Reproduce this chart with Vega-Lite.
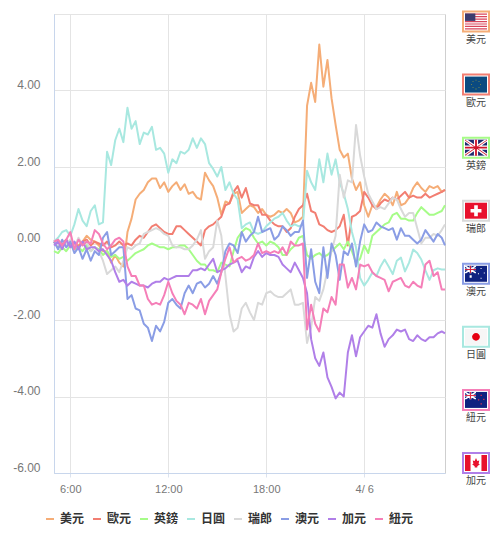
{"$schema":"https://vega.github.io/schema/vega-lite/v6.json","background":"white","padding":{"left":12,"top":7,"right":0,"bottom":0},"spacing":5,"config":{"font":"Liberation Sans, Noto Sans CJK TC","view":{"stroke":null}},
"hconcat":[{"width":391,"height":459,"view":{"stroke":"#cfcfcf"},
"data":{"values":[
{"t":"2020-04-05T05:00","美元":0,"歐元":0.05,"英鎊":-0.2,"日圓":0.05,"瑞郎":0.1,"澳元":0.05,"加元":-0.05,"紐元":0.05},
{"t":"2020-04-05T05:15","美元":0.05,"歐元":-0.1,"英鎊":-0.25,"日圓":0.15,"瑞郎":-0.05,"澳元":-0.15,"加元":0.05,"紐元":0.1},
{"t":"2020-04-05T05:30","美元":-0.05,"歐元":0,"英鎊":-0.1,"日圓":0.3,"瑞郎":0.05,"澳元":0.1,"加元":-0.15,"紐元":-0.05},
{"t":"2020-04-05T05:45","美元":0.05,"歐元":0.1,"英鎊":-0.2,"日圓":0.35,"瑞郎":0,"澳元":-0.1,"加元":0.1,"紐元":0.1},
{"t":"2020-04-05T06:00","美元":-0.05,"歐元":-0.05,"英鎊":-0.05,"日圓":0.2,"瑞郎":0.1,"澳元":0.05,"加元":-0.1,"紐元":0.3},
{"t":"2020-04-05T06:15","美元":0,"歐元":0,"英鎊":-0.15,"日圓":0.5,"瑞郎":-0.1,"澳元":-0.25,"加元":0.05,"紐元":-0.15},
{"t":"2020-04-05T06:30","美元":-0.05,"歐元":-0.1,"英鎊":-0.1,"日圓":0.9,"瑞郎":0.15,"澳元":-0.1,"加元":-0.15,"紐元":0.1},
{"t":"2020-04-05T06:45","美元":0.05,"歐元":0.05,"英鎊":-0.2,"日圓":0.6,"瑞郎":-0.05,"澳元":-0.4,"加元":0.05,"紐元":-0.05},
{"t":"2020-04-05T07:00","美元":0.2,"歐元":0.1,"英鎊":-0.05,"日圓":0.45,"瑞郎":0.05,"澳元":-0.15,"加元":-0.15,"紐元":0.05},
{"t":"2020-04-05T07:15","美元":0.1,"歐元":-0.05,"英鎊":-0.2,"日圓":0.85,"瑞郎":-0.2,"澳元":-0.45,"加元":-0.1,"紐元":0},
{"t":"2020-04-05T07:30","美元":0.05,"歐元":0.05,"英鎊":-0.1,"日圓":1.0,"瑞郎":-0.1,"澳元":-0.2,"加元":-0.1,"紐元":0.35},
{"t":"2020-04-05T07:45","美元":-0.05,"歐元":0,"英鎊":-0.15,"日圓":0.5,"瑞郎":-0.2,"澳元":-0.3,"加元":-0.2,"紐元":0.25},
{"t":"2020-04-05T08:00","美元":-0.2,"歐元":-0.05,"英鎊":-0.3,"日圓":0.55,"瑞郎":-0.45,"澳元":0.15,"加元":-0.15,"紐元":0},
{"t":"2020-04-05T08:15","美元":-0.2,"歐元":0.05,"英鎊":-0.2,"日圓":2.4,"瑞郎":-0.8,"澳元":0.3,"加元":-0.3,"紐元":-0.15},
{"t":"2020-04-05T08:30","美元":-0.5,"歐元":-0.1,"英鎊":-0.35,"日圓":2.05,"瑞郎":-0.7,"澳元":-0.3,"加元":-0.45,"紐元":-0.05},
{"t":"2020-04-05T08:45","美元":-0.3,"歐元":-0.05,"英鎊":-0.3,"日圓":2.7,"瑞郎":-0.6,"澳元":-0.2,"加元":-0.75,"紐元":0.1},
{"t":"2020-04-05T09:00","美元":-0.5,"歐元":0.05,"英鎊":-0.4,"日圓":3.0,"瑞郎":-0.75,"澳元":-0.1,"加元":-1.0,"紐元":0.15},
{"t":"2020-04-05T09:15","美元":-0.6,"歐元":-0.05,"英鎊":-0.35,"日圓":2.65,"瑞郎":-0.45,"澳元":-0.1,"加元":-0.95,"紐元":0.05},
{"t":"2020-04-05T09:30","美元":0.3,"歐元":0,"英鎊":-0.45,"日圓":3.55,"瑞郎":-0.1,"澳元":-1.45,"加元":-1.1,"紐元":-0.6},
{"t":"2020-04-05T09:45","美元":0.65,"歐元":-0.05,"英鎊":-0.35,"日圓":3.0,"瑞郎":-0.15,"澳元":-1.35,"加元":-1.0,"紐元":-0.85},
{"t":"2020-04-05T10:00","美元":1.15,"歐元":0.1,"英鎊":-0.25,"日圓":3.2,"瑞郎":-0.05,"澳元":-1.7,"加元":-1.05,"紐元":-0.85},
{"t":"2020-04-05T10:15","美元":1.3,"歐元":0.2,"英鎊":-0.2,"日圓":2.6,"瑞郎":0,"澳元":-1.75,"加元":-1.1,"紐元":-1.1},
{"t":"2020-04-05T10:30","美元":1.4,"歐元":0.15,"英鎊":-0.15,"日圓":2.9,"瑞郎":0.25,"澳元":-2.1,"加元":-1.1,"紐元":-1.1},
{"t":"2020-04-05T10:45","美元":1.6,"歐元":0.3,"英鎊":-0.05,"日圓":2.85,"瑞郎":0.3,"澳元":-2.2,"加元":-1.15,"紐元":-1.45},
{"t":"2020-04-05T11:00","美元":1.7,"歐元":0.45,"英鎊":0,"日圓":3.05,"瑞郎":0.35,"澳元":-2.55,"加元":-1.05,"紐元":-1.6},
{"t":"2020-04-05T11:15","美元":1.7,"歐元":0.5,"英鎊":-0.05,"日圓":2.45,"瑞郎":0.4,"澳元":-2.15,"加元":-1.0,"紐元":-1.55},
{"t":"2020-04-05T11:30","美元":1.45,"歐元":0.4,"英鎊":-0.1,"日圓":2.5,"瑞郎":0.35,"澳元":-2.3,"加元":-1.0,"紐元":-1.6},
{"t":"2020-04-05T11:45","美元":1.6,"歐元":0.3,"英鎊":-0.1,"日圓":2.35,"瑞郎":0.25,"澳元":-2.05,"加元":-0.9,"紐元":-1.35},
{"t":"2020-04-05T12:00","美元":1.35,"歐元":0.25,"英鎊":-0.15,"日圓":1.85,"瑞郎":0.2,"澳元":-1.55,"加元":-0.95,"紐元":-1.0},
{"t":"2020-04-05T12:15","美元":1.5,"歐元":0.25,"英鎊":-0.1,"日圓":2.2,"瑞郎":-0.05,"澳元":-1.45,"加元":-0.9,"紐元":-1.3},
{"t":"2020-04-05T12:30","美元":1.6,"歐元":0.45,"英鎊":-0.1,"日圓":2.1,"瑞郎":-0.1,"澳元":-1.6,"加元":-0.85,"紐元":-1.5},
{"t":"2020-04-05T12:45","美元":1.4,"歐元":0.45,"英鎊":-0.05,"日圓":2.4,"瑞郎":-0.1,"澳元":-1.7,"加元":-0.85,"紐元":-1.6},
{"t":"2020-04-05T13:00","美元":1.55,"歐元":0.35,"英鎊":-0.05,"日圓":2.35,"瑞郎":-0.15,"澳元":-1.3,"加元":-0.85,"紐元":-1.85},
{"t":"2020-04-05T13:15","美元":1.3,"歐元":0.25,"英鎊":-0.15,"日圓":2.45,"瑞郎":-0.15,"澳元":-1.1,"加元":-0.85,"紐元":-1.55},
{"t":"2020-04-05T13:30","美元":1.35,"歐元":0.15,"英鎊":-0.3,"日圓":2.75,"瑞郎":-0.05,"澳元":-1.3,"加元":-0.7,"紐元":-1.6},
{"t":"2020-04-05T13:45","美元":1.2,"歐元":0.05,"英鎊":-0.45,"日圓":2.5,"瑞郎":0.1,"澳元":-1.05,"加元":-0.7,"紐元":-1.7},
{"t":"2020-04-05T14:00","美元":1.15,"歐元":-0.05,"英鎊":-0.55,"日圓":2.75,"瑞郎":0.35,"澳元":-1.0,"加元":-0.65,"紐元":-1.45},
{"t":"2020-04-05T14:15","美元":1.85,"歐元":0.35,"英鎊":-0.55,"日圓":2.6,"瑞郎":-0.4,"澳元":-1.15,"加元":-0.7,"紐元":-1.85},
{"t":"2020-04-05T14:30","美元":1.65,"歐元":0.45,"英鎊":-0.7,"日圓":2.1,"瑞郎":-0.2,"澳元":-1.05,"加元":-0.55,"紐元":-1.5},
{"t":"2020-04-05T14:45","美元":1.5,"歐元":0.5,"英鎊":-0.7,"日圓":1.95,"瑞郎":-0.1,"澳元":-0.85,"加元":-0.4,"紐元":-1.35},
{"t":"2020-04-05T15:00","美元":1.2,"歐元":0.6,"英鎊":-0.75,"日圓":1.75,"瑞郎":0.6,"澳元":-1.05,"加元":-0.75,"紐元":-1.2},
{"t":"2020-04-05T15:15","美元":0.75,"歐元":0.7,"英鎊":-0.5,"日圓":2.0,"瑞郎":0.2,"澳元":-0.75,"加元":-0.7,"紐元":-0.75},
{"t":"2020-04-05T15:30","美元":1.1,"歐元":1.0,"英鎊":-0.55,"日圓":1.4,"瑞郎":-0.85,"澳元":-0.2,"加元":-0.65,"紐元":-0.4},
{"t":"2020-04-05T15:45","美元":1.05,"歐元":1.05,"英鎊":-0.6,"日圓":1.6,"瑞郎":-1.85,"澳元":0,"加元":-0.55,"紐元":-0.1},
{"t":"2020-04-05T16:00","美元":1.3,"歐元":1.35,"英鎊":-0.2,"日圓":1.3,"瑞郎":-2.3,"澳元":-0.05,"加元":-0.5,"紐元":-0.5},
{"t":"2020-04-05T16:15","美元":1.35,"歐元":1.5,"英鎊":0.15,"日圓":1.15,"瑞郎":-2.2,"澳元":-0.25,"加元":-0.45,"紐元":-0.4},
{"t":"2020-04-05T16:30","美元":0.8,"歐元":1.2,"英鎊":0.3,"日圓":0.4,"瑞郎":-1.7,"澳元":0.3,"加元":-0.75,"紐元":-0.35},
{"t":"2020-04-05T16:45","美元":0.9,"歐元":1.45,"英鎊":0.4,"日圓":0.5,"瑞郎":-1.55,"澳元":0.05,"加元":-0.6,"紐元":-0.45},
{"t":"2020-04-05T17:00","美元":1.0,"歐元":1.05,"英鎊":0.35,"日圓":0.55,"瑞郎":-1.8,"澳元":0.2,"加元":-0.65,"紐元":-0.4},
{"t":"2020-04-05T17:15","美元":0.95,"歐元":1.0,"英鎊":0.15,"日圓":0.3,"瑞郎":-2.0,"澳元":0.3,"加元":-0.35,"紐元":-0.3},
{"t":"2020-04-05T17:30","美元":0.8,"歐元":1.0,"英鎊":0,"日圓":0.25,"瑞郎":-1.55,"澳元":0.7,"加元":-0.2,"紐元":0},
{"t":"2020-04-05T17:45","美元":0.9,"歐元":0.75,"英鎊":0.05,"日圓":0.3,"瑞郎":-1.6,"澳元":0.3,"加元":-0.35,"紐元":-0.25},
{"t":"2020-04-05T18:00","美元":0.75,"歐元":0.75,"英鎊":-0.05,"日圓":0.45,"瑞郎":-1.3,"澳元":0.35,"加元":-0.25,"紐元":-0.2},
{"t":"2020-04-05T18:15","美元":0.7,"歐元":0.6,"英鎊":0.05,"日圓":0.55,"瑞郎":-1.25,"澳元":0.4,"加元":-0.3,"紐元":-0.25},
{"t":"2020-04-05T18:30","美元":0.75,"歐元":0.5,"英鎊":0,"日圓":0.65,"瑞郎":-1.35,"澳元":0.1,"加元":-0.3,"紐元":-0.2},
{"t":"2020-04-05T18:45","美元":0.85,"歐元":0.45,"英鎊":-0.1,"日圓":0.7,"瑞郎":-1.4,"澳元":0.2,"加元":-0.35,"紐元":-0.25},
{"t":"2020-04-05T19:00","美元":0.8,"歐元":0.45,"英鎊":-0.3,"日圓":0.8,"瑞郎":-1.4,"澳元":0.45,"加元":-0.55,"紐元":-0.1},
{"t":"2020-04-05T19:15","美元":0.9,"歐元":0.3,"英鎊":-0.3,"日圓":0.6,"瑞郎":-1.3,"澳元":0.35,"加元":-0.65,"紐元":-0.3},
{"t":"2020-04-05T19:30","美元":0.8,"歐元":0.4,"英鎊":-0.15,"日圓":0.45,"瑞郎":-1.2,"澳元":0.2,"加元":-0.75,"紐元":0.05},
{"t":"2020-04-05T19:45","美元":0.55,"歐元":0.7,"英鎊":-0.05,"日圓":0.5,"瑞郎":-1.6,"澳元":0.3,"加元":-0.5,"紐元":-0.05},
{"t":"2020-04-05T20:00","美元":0.6,"歐元":0.9,"英鎊":0.15,"日圓":0.45,"瑞郎":-1.6,"澳元":0.3,"加元":-0.7,"紐元":-0.05},
{"t":"2020-04-05T20:15","美元":0.7,"歐元":1.0,"英鎊":0.2,"日圓":0.5,"瑞郎":-1.55,"澳元":0.6,"加元":-0.9,"紐元":0},
{"t":"2020-04-05T20:30","美元":3.6,"歐元":1.3,"英鎊":-0.3,"日圓":1.9,"瑞郎":-2.6,"澳元":-0.9,"加元":-1.3,"紐元":-2.25},
{"t":"2020-04-05T20:45","美元":4.2,"歐元":0.85,"英鎊":-0.4,"日圓":1.6,"瑞郎":-2.2,"澳元":-0.15,"加元":-2.5,"紐元":-1.6},
{"t":"2020-04-05T21:00","美元":3.7,"歐元":0.8,"英鎊":-0.3,"日圓":1.4,"瑞郎":-1.4,"澳元":-1.0,"加元":-3.0,"紐元":-2.1},
{"t":"2020-04-05T21:15","美元":5.2,"歐元":0.5,"英鎊":-0.25,"日圓":2.2,"瑞郎":-1.5,"澳元":-1.3,"加元":-3.2,"紐元":-2.3},
{"t":"2020-04-05T21:30","美元":4.1,"歐元":0.45,"英鎊":-0.35,"日圓":1.6,"瑞郎":-1.2,"澳元":-0.1,"加元":-2.85,"紐元":-1.7},
{"t":"2020-04-05T21:45","美元":4.8,"歐元":0.35,"英鎊":-0.3,"日圓":2.35,"瑞郎":-0.7,"澳元":-0.9,"加元":-3.5,"紐元":-1.8},
{"t":"2020-04-05T22:00","美元":3.8,"歐元":0.3,"英鎊":-0.2,"日圓":1.8,"瑞郎":-0.2,"澳元":0,"加元":-3.75,"紐元":-1.4},
{"t":"2020-04-05T22:15","美元":3.1,"歐元":0.35,"英鎊":-0.1,"日圓":2.2,"瑞郎":0.2,"澳元":-0.3,"加元":-4.05,"紐元":-1.6},
{"t":"2020-04-05T22:30","美元":2.45,"歐元":0.45,"英鎊":0,"日圓":1.6,"瑞郎":1.8,"澳元":-0.95,"加元":-3.9,"紐元":-0.55},
{"t":"2020-04-05T22:45","美元":2.25,"歐元":0.75,"英鎊":-0.15,"日圓":1.3,"瑞郎":1.2,"澳元":-0.2,"加元":-4.0,"紐元":-0.55},
{"t":"2020-04-05T23:00","美元":2.35,"歐元":-0.05,"英鎊":0.05,"日圓":0.9,"瑞郎":1.65,"澳元":-0.3,"加元":-2.85,"紐元":-1.15},
{"t":"2020-04-05T23:15","美元":1.7,"歐元":0.7,"英鎊":-0.2,"日圓":0.3,"瑞郎":1.6,"澳元":0,"加元":-2.4,"紐元":-0.9},
{"t":"2020-04-05T23:30","美元":1.4,"歐元":0.75,"英鎊":-0.5,"日圓":-0.1,"瑞郎":3.1,"澳元":-0.6,"加元":-2.95,"紐元":-1.2},
{"t":"2020-04-05T23:45","美元":1.6,"歐元":0.85,"英鎊":-0.4,"日圓":-0.9,"瑞郎":2.3,"澳元":0.05,"加元":-2.45,"紐元":-0.55},
{"t":"2020-04-06T00:00","美元":1.0,"歐元":1.35,"英鎊":-0.05,"日圓":-1.1,"瑞郎":1.75,"澳元":0.5,"加元":-2.3,"紐元":-0.6},
{"t":"2020-04-06T00:15","美元":0.7,"歐元":1.2,"英鎊":-0.25,"日圓":-0.95,"瑞郎":1.3,"澳元":0.3,"加元":-2.15,"紐元":-0.55},
{"t":"2020-04-06T00:30","美元":1.0,"歐元":1.0,"英鎊":0.2,"日圓":-0.76,"瑞郎":1.1,"澳元":0.35,"加元":-2.2,"紐元":-0.75},
{"t":"2020-04-06T00:45","美元":0.95,"歐元":0.9,"英鎊":0.3,"日圓":-0.85,"瑞郎":0.9,"澳元":0.55,"加元":-1.85,"紐元":-0.85},
{"t":"2020-04-06T01:00","美元":1.15,"歐元":1.05,"英鎊":0.4,"日圓":-0.6,"瑞郎":0.95,"澳元":0.45,"加元":-2.35,"紐元":-0.9},
{"t":"2020-04-06T01:15","美元":1.3,"歐元":1.15,"英鎊":0.5,"日圓":-0.42,"瑞郎":0.9,"澳元":0.4,"加元":-2.7,"紐元":-0.95},
{"t":"2020-04-06T01:30","美元":1.2,"歐元":1.1,"英鎊":0.55,"日圓":-0.6,"瑞郎":1.05,"澳元":0.35,"加元":-2.5,"紐元":-1.25},
{"t":"2020-04-06T01:45","美元":1.0,"歐元":1.2,"英鎊":0.75,"日圓":-0.8,"瑞郎":1.2,"澳元":0.4,"加元":-2.4,"紐元":-1.0},
{"t":"2020-04-06T02:00","美元":1.35,"歐元":1.15,"英鎊":0.8,"日圓":-0.45,"瑞郎":1.15,"澳元":0.1,"加元":-2.25,"紐元":-0.95},
{"t":"2020-04-06T02:15","美元":1.0,"歐元":1.25,"英鎊":0.65,"日圓":-0.37,"瑞郎":0.9,"澳元":0.4,"加元":-2.3,"紐元":-0.9},
{"t":"2020-04-06T02:30","美元":1.05,"歐元":1.35,"英鎊":0.65,"日圓":-0.73,"瑞郎":0.7,"澳元":0.2,"加元":-2.25,"紐元":-1.1},
{"t":"2020-04-06T02:45","美元":1.2,"歐元":1.2,"英鎊":0.6,"日圓":-0.5,"瑞郎":0.8,"澳元":0.2,"加元":-2.5,"紐元":-1.15},
{"t":"2020-04-06T03:00","美元":1.45,"歐元":1.25,"英鎊":0.6,"日圓":-0.16,"瑞郎":0.8,"澳元":0.1,"加元":-2.55,"紐元":-1.0},
{"t":"2020-04-06T03:15","美元":1.6,"歐元":1.2,"英鎊":0.8,"日圓":-0.25,"瑞郎":0.4,"澳元":0,"加元":-2.4,"紐元":-1.1},
{"t":"2020-04-06T03:30","美元":1.45,"歐元":1.2,"英鎊":0.95,"日圓":-0.42,"瑞郎":0,"澳元":0.1,"加元":-2.5,"紐元":-1.15},
{"t":"2020-04-06T03:45","美元":1.35,"歐元":1.3,"英鎊":0.85,"日圓":-0.7,"瑞郎":0.15,"澳元":0.35,"加元":-2.55,"紐元":-0.55},
{"t":"2020-04-06T04:00","美元":1.5,"歐元":1.2,"英鎊":0.75,"日圓":-0.95,"瑞郎":0.15,"澳元":0.2,"加元":-2.45,"紐元":-0.45},
{"t":"2020-04-06T04:15","美元":1.45,"歐元":1.25,"英鎊":0.75,"日圓":-0.7,"瑞郎":0.25,"澳元":0.05,"加元":-2.45,"紐元":-0.85},
{"t":"2020-04-06T04:30","美元":1.5,"歐元":1.3,"英鎊":0.8,"日圓":-0.65,"瑞郎":0.2,"澳元":0.25,"加元":-2.35,"紐元":-0.75},
{"t":"2020-04-06T04:45","美元":1.35,"歐元":1.35,"英鎊":0.85,"日圓":-0.68,"瑞郎":0.35,"澳元":0.15,"加元":-2.3,"紐元":-1.2},
{"t":"2020-04-06T04:57","美元":1.4,"歐元":1.4,"英鎊":1.0,"日圓":-0.68,"瑞郎":0.5,"澳元":-0.05,"加元":-2.35,"紐元":-1.2}
]},
"transform":[{"fold":["美元","歐元","英鎊","日圓","瑞郎","澳元","加元","紐元"],"as":["currency","change"]}],
"mark":{"type":"line","strokeWidth":2,"strokeJoin":"round"},
"encoding":{
"x":{"field":"t","type":"temporal","title":null,"scale":{"domain":["2020-04-05T05:00","2020-04-06T04:57"]},"axis":{"values":["2020-04-05T06:00","2020-04-05T12:00","2020-04-05T18:00","2020-04-06T00:00"],"labelExpr":"hours(datum.value)==0?'4/ 6':hours(datum.value)+':00'","grid":true,"gridColor":"#e4e4e4","domainColor":"#c8d6ec","tickColor":"#dce3ee","tickSize":4,"labelColor":"#777777","labelFontSize":11,"labelPadding":6,"labelFlush":false}},
"y":{"field":"change","type":"quantitative","title":null,"scale":{"domain":[-6,6],"nice":false},"axis":{"values":[-6,-4,-2,0,2,4,6],"labelExpr":"datum.value==6?'':replace(format(datum.value,'.2f'),'−','-')","grid":true,"gridColor":"#e4e4e4","domainColor":"#c8d6ec","ticks":false,"labelColor":"#777777","labelFontSize":12,"labelPadding":14,"labelOffset":-6}},
"color":{"field":"currency","type":"nominal","title":null,"scale":{"domain":["美元","歐元","英鎊","日圓","瑞郎","澳元","加元","紐元"],"range":["#f5ad77","#f27e72","#a6fc88","#a8e8e0","#d9d9d9","#8a9de5","#b07fe8","#f57fb8"]},"legend":{"orient":"none","legendX":-10,"legendY":499,"direction":"horizontal","columns":8,"columnPadding":4,"symbolType":"stroke","symbolSize":64,"symbolStrokeWidth":2,"labelFontSize":12,"labelFontWeight":"bold","labelColor":"#333333","labelOffset":4}}
}},
{"width":48,"height":459,
"data":{"values":[{"currency":"美元"},{"currency":"歐元"},{"currency":"英鎊"},{"currency":"瑞郎"},{"currency":"澳元"},{"currency":"日圓"},{"currency":"紐元"},{"currency":"加元"}]},
"encoding":{"y":{"field":"currency","type":"nominal","title":null,"axis":null,"scale":{"type":"point","padding":0,"domain":["美元","歐元","英鎊","瑞郎","澳元","日圓","紐元","加元"],"range":[7.5,449]}}},
"resolve":{"scale":{"color":"independent","shape":"independent","stroke":"independent"}},
"layer":[
{"mark":{"type":"point","filled":false,"size":676,"strokeWidth":2,"opacity":1,"shape":"M-1,-.77H1V.77H-1Z"},"encoding":{"stroke":{"field":"currency","type":"nominal","legend":null,"scale":{"domain":["美元","歐元","英鎊","日圓","瑞郎","澳元","加元","紐元"],"range":["#f5ad77","#f27e72","#a6fc88","#a8e8e0","#d9d9d9","#8a9de5","#b07fe8","#f57fb8"]}}}},
{"mark":{"type":"point","filled":true,"size":676,"opacity":1,"shape":"M-.846,-.615H.846V.615H-.846Z"},"encoding":{"color":{"field":"currency","type":"nominal","legend":null,"scale":{"domain":["美元","歐元","英鎊","瑞郎","澳元","日圓","紐元","加元"],"range":["#ffffff","#0b4a80","#1d2a6e","#e8112d","#0f2280","#f6f6f6","#0f2280","#ffffff"]}}}},
{"mark":{"type":"point","filled":true,"size":676,"opacity":1},"encoding":{
"color":{"field":"currency","type":"nominal","legend":null,"scale":{"domain":["美元","歐元","英鎊","瑞郎","澳元","日圓","紐元","加元"],"range":["#d9465c","#b5a92c","#ffffff","#ffffff","#ffffff","#e60012","#ffffff","#e8112d"]}},
"shape":{"field":"currency","type":"nominal","legend":null,"scale":{"domain":["美元","歐元","英鎊","瑞郎","澳元","日圓","紐元","加元"],"range":[
"M-.846,-.615H.846V-.52H-.846ZM-.846,-.425H.846V-.33H-.846ZM-.846,-.235H.846V-.14H-.846ZM-.846,-.045H.846V.05H-.846ZM-.846,.145H.846V.24H-.846ZM-.846,.335H.846V.43H-.846ZM-.846,.525H.846V.615H-.846Z",
"M.31,-.03H.37V.03H.31ZM-.37,-.03H-.31V.03H-.37ZM-.03,-.37H.03V-.31H-.03ZM-.03,.31H.03V.37H-.03ZM.2,-.27H.26V-.21H.2ZM-.26,-.27H-.2V-.21H-.26ZM.2,.21H.26V.27H.2ZM-.26,.21H-.2V.27H-.26Z",
"M-.846,-.615H-.65L.846,.45V.615H.65L-.846,-.45ZM.846,-.615V-.45L-.65,.615H-.846V.45L.65,-.615ZM-.16,-.615H.16V.615H-.16ZM-.846,-.16H.846V.16H-.846Z",
"M-.14,-.42H.14V-.14H.42V.14H.14V.42H-.14V.14H-.42V-.14H-.14Z",
"M-.846,-.615H-.75L0,-.12V-.05H-.1L-.846,-.54ZM0,-.615V-.54L-.75,-.05H-.846V-.12L-.1,-.615ZM-.5,-.615H-.35V-.05H-.5ZM-.846,-.4H0V-.27H-.846ZM-.49,.12H-.33V.3H-.49ZM.35,-.45H.43V-.37H.35ZM.35,.3H.43V.38H.35ZM.6,-.1H.68V-.02H.6ZM.15,-.05H.23V.03H.15Z",
"M-.3,0A.3,.3 0 1,1 .3,0A.3,.3 0 1,1 -.3,0Z",
"M-.846,-.615H-.75L0,-.12V-.05H-.1L-.846,-.54ZM0,-.615V-.54L-.75,-.05H-.846V-.12L-.1,-.615ZM-.5,-.615H-.35V-.05H-.5ZM-.846,-.4H0V-.27H-.846Z",
"M-.846,-.615H-.42V.615H-.846ZM.42,-.615H.846V.615H.42ZM0,-.38L.1,-.15L.25,-.2L.2,.05L.3,.1L.1,.25V.35H-.1V.25L-.3,.1L-.2,.05L-.25,-.2L-.1,-.15Z"
]}}}},
{"mark":{"type":"point","filled":true,"size":676,"opacity":1},"encoding":{
"color":{"field":"currency","type":"nominal","legend":null,"scale":{"domain":["美元","歐元","英鎊","瑞郎","澳元","日圓","紐元","加元"],"range":["#3c3b6e","#b5a92c","#cf142b","#ffffff","#d0213a","#e60012","#e0304a","#e8112d"]}},
"shape":{"field":"currency","type":"nominal","legend":null,"scale":{"domain":["美元","歐元","英鎊","瑞郎","澳元","日圓","紐元","加元"],"range":[
"M-.846,-.615H-.05V-.045H-.846Z",
"M0,0Z",
"M-.07,-.615H.07V.615H-.07ZM-.846,-.07H.846V.07H-.846ZM-.846,-.615L.846,.55V.615L-.846,-.55ZM.846,-.615V-.55L-.846,.615V.55Z",
"M0,0Z",
"M-.47,-.615H-.38V-.05H-.47ZM-.846,-.37H0V-.3H-.846Z",
"M0,0Z",
"M-.47,-.615H-.38V-.05H-.47ZM-.846,-.37H0V-.3H-.846ZM.35,-.4H.45V-.3H.35ZM.35,.25H.45V.35H.35ZM.55,-.1H.65V0H.55ZM.15,-.05H.25V.05H.15Z",
"M0,0Z"
]}}}},
{"mark":{"type":"text","dy":18,"fontSize":10,"font":"Noto Sans CJK TC","color":"#444444"},"encoding":{"text":{"field":"currency","type":"nominal"}}}
]}
]}
